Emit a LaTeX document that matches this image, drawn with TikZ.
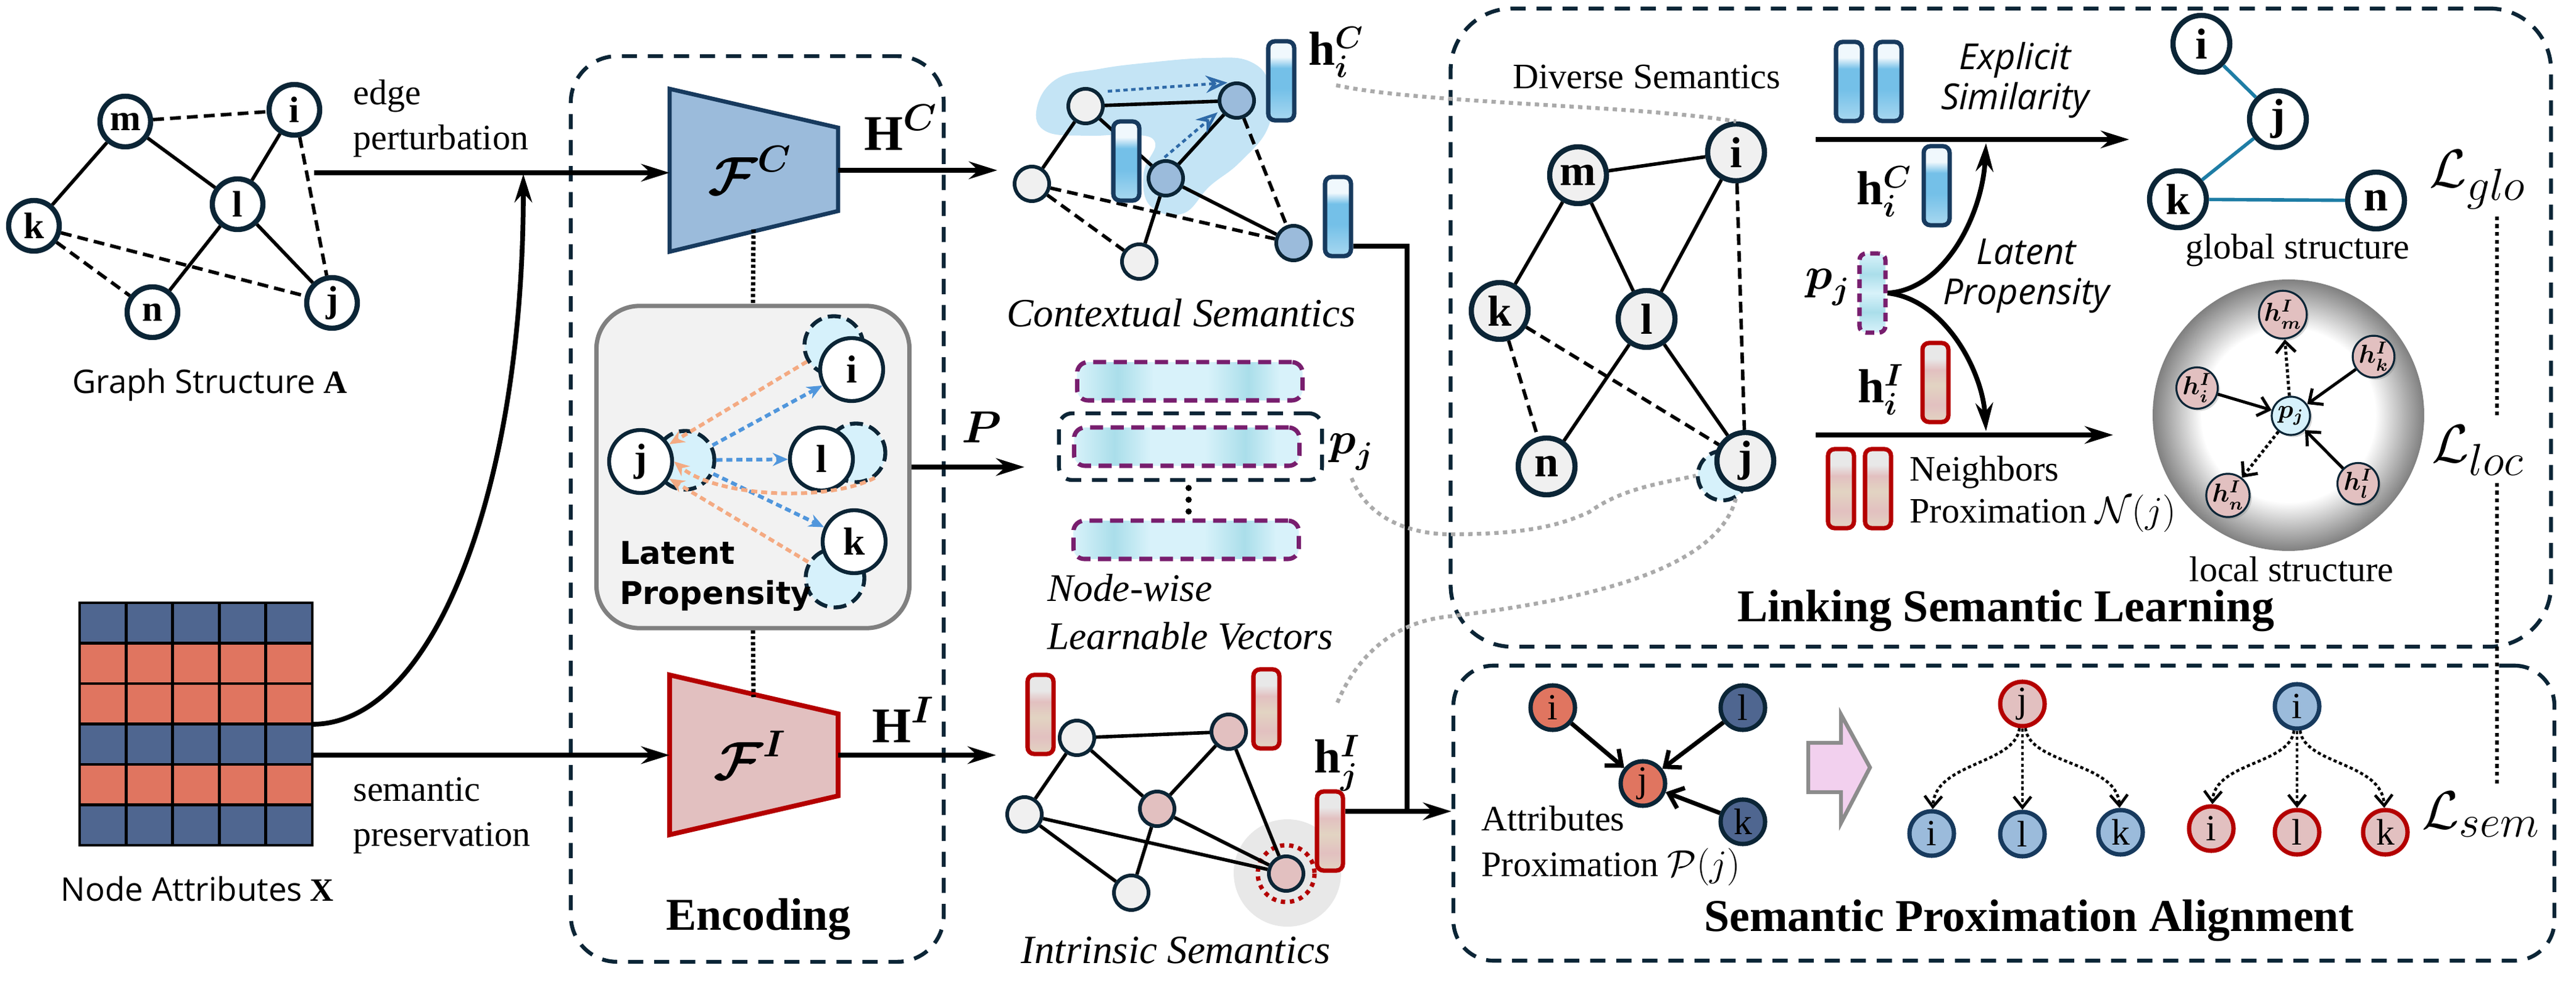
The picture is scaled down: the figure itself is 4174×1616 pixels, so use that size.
\documentclass[tikz,border=0pt]{standalone}
\usepackage{fontspec}
\usepackage{amsmath}
\setmainfont{Liberation Serif}
\newfontfamily\uisans{Open Sans}
\newfontfamily\widesans{DejaVu Sans}
\usetikzlibrary{arrows.meta,shadows,calc}

\definecolor{nodeline}{RGB}{11,37,54}
\definecolor{cblue}{RGB}{155,187,219}
\definecolor{cline}{RGB}{23,58,94}
\definecolor{ipink}{RGB}{226,192,192}
\definecolor{iline}{RGB}{180,0,0}
\definecolor{attrblue}{RGB}{79,102,144}
\definecolor{attrred}{RGB}{224,117,96}
\definecolor{shadowblue}{RGB}{214,241,251}
\definecolor{propblue}{RGB}{80,150,220}
\definecolor{proporange}{RGB}{244,170,130}
\definecolor{vecpurple}{RGB}{120,30,110}
\definecolor{blobblue}{RGB}{196,228,245}
\definecolor{ctxarrow}{RGB}{47,106,168}
\definecolor{globteal}{RGB}{30,125,165}
\definecolor{linkgray}{RGB}{170,170,170}
\definecolor{arrowpink}{RGB}{242,208,238}
\definecolor{nodegray}{RGB}{240,240,240}
\definecolor{bbtop}{RGB}{240,248,253}
\definecolor{bbmid}{RGB}{116,192,232}
\definecolor{bbbot}{RGB}{168,216,240}
\definecolor{rbtop}{RGB}{232,232,232}
\definecolor{rbpink}{RGB}{226,192,192}
\definecolor{rbbeige}{RGB}{226,212,194}
\definecolor{vlight}{RGB}{216,242,250}
\definecolor{vdark}{RGB}{170,222,234}

\pgfdeclareverticalshading{bluebar}{100bp}{color(0bp)=(bbbot); color(25bp)=(bbbot); color(45bp)=(bbmid); color(58bp)=(bbmid); color(65bp)=(bbtop); color(75bp)=(bbtop); color(100bp)=(bbtop)}
\pgfdeclareverticalshading{redbar}{100bp}{color(0bp)=(rbbeige); color(25bp)=(rbbeige); color(36bp)=(rbpink); color(48bp)=(rbbeige); color(58bp)=(rbpink); color(65bp)=(rbtop); color(75bp)=(rbtop); color(100bp)=(rbtop)}
\pgfdeclarehorizontalshading{learnvec}{100bp}{color(0bp)=(vlight); color(25bp)=(vlight); color(34bp)=(vdark); color(42bp)=(vlight); color(54bp)=(vlight); color(63bp)=(vdark); color(70bp)=(vlight); color(100bp)=(vlight)}
\pgfdeclareverticalshading{learnvecv}{100bp}{color(0bp)=(vlight); color(25bp)=(vlight); color(38bp)=(vdark); color(50bp)=(vlight); color(62bp)=(vdark); color(75bp)=(vlight); color(100bp)=(vlight)}
\pgfdeclareradialshading{sphere}{\pgfpoint{0bp}{0bp}}{color(0bp)=(white); color(16bp)=(white); color(25bp)=(black!50); color(50bp)=(black!50)}

\tikzset{
  gnode/.style={circle, draw=nodeline, line width=2.4pt, fill=white, minimum size=0.82cm, inner sep=0pt, font=\fontsize{17}{17}\selectfont\bfseries},
  lnode/.style={gnode, fill=nodegray, minimum size=0.92cm, font=\fontsize{20}{20}\selectfont\bfseries},
  gedge/.style={line width=1.6pt},
  gdash/.style={dash pattern=on 5pt off 2.8pt},
  dbox/.style={draw=nodeline, line width=1.8pt, dash pattern=on 7pt off 5pt, rounded corners=0.75cm},
  main/.style={line width=2.2pt},
  latnode/.style={circle, draw=nodeline, line width=1.8pt, fill=white, minimum size=1.02cm, inner sep=0pt, font=\fontsize{18}{18}\selectfont\bfseries},
  latshadow/.style={circle, draw=nodeline, line width=1.8pt, dash pattern=on 6pt off 3pt, fill=shadowblue, minimum size=0.95cm},
  proparrow/.style={line width=1.7pt, dash pattern=on 2.8pt off 1.8pt, -{Stealth[length=7pt,width=6pt]}},
  cnode/.style={circle, draw=nodeline, line width=1.7pt, fill=nodegray, minimum size=0.56cm, inner sep=0pt},
  cbar/.style={draw=cline, line width=2pt, rounded corners=3pt, shade, shading=bluebar, minimum width=0.42cm, minimum height=1.28cm, inner sep=0pt},
  ibar/.style={cbar, draw=iline, shading=redbar},
  lvec/.style={draw=vecpurple, line width=2pt, dash pattern=on 6pt off 3.5pt, rounded corners=5pt, shade, shading=learnvec, minimum width=3.65cm, minimum height=0.62cm, inner sep=0pt},
  hnode/.style={circle, draw=nodeline, line width=0.9pt, fill=ipink, minimum size=0.62cm, inner sep=0pt, drop shadow={opacity=0.3,shadow xshift=1pt,shadow yshift=-1pt}, font=\fontsize{12}{12}\selectfont},
  lsarrow/.style={line width=1.4pt, -{Straight Barb[length=5pt,width=9pt]}},
  snode/.style={circle, draw=nodeline, line width=2pt, minimum size=0.72cm, inner sep=0pt, font=\fontsize{17}{17}\selectfont},
  tarrow/.style={line width=1.3pt, dash pattern=on 1.5pt off 1.2pt, -{Straight Barb[length=5pt,width=8pt]}},
  linkdots/.style={linkgray, line width=1.8pt, dash pattern=on 2pt off 2pt},
  lossdots/.style={line width=1.8pt, dash pattern=on 1.8pt off 1.8pt},
  losslbl/.style={font=\fontsize{28}{28}\selectfont},
  lbl/.style={font=\fontsize{16.5}{21}\selectfont},
  mathlbl/.style={font=\fontsize{22}{22}\selectfont},
  head/.style={font=\fontsize{21}{21}\selectfont\bfseries}
}

\begin{document}
\begin{tikzpicture}[x=0.01cm,y=-0.01cm,>={Stealth[length=13pt,width=8pt]}]
\useasboundingbox (0,0) rectangle (4174,1616);

% boxes
\node[dbox, minimum width=6.04cm, minimum height=14.67cm] (enc) at (1227,825) {};
\node[dbox, rounded corners=1cm, minimum width=17.82cm, minimum height=10.34cm] (link) at (3242,531) {};
\node[dbox, rounded corners=0.65cm, minimum width=17.83cm, minimum height=4.78cm] (spa) at (3247,1318) {};

% graph structure
\node[gnode] (m) at (203,197) {m};
\node[gnode] (i) at (477,178) {i};
\node[gnode] (l) at (385,331) {l};
\node[gnode] (k) at (55,366) {k};
\node[gnode] (n) at (247,506) {n};
\node[gnode] (j) at (538,491) {j};
\foreach \a/\b in {m/k,m/l,l/i,l/n,l/j}
  \draw[gedge] (\a)--(\b);
\foreach \a/\b in {m/i,k/j,k/n,i/j}
  \draw[gedge,gdash] (\a)--(\b);
\node[font=\fontsize{15}{15}\selectfont] (gsA) at (340,624) {{\uisans Graph Structure} \textbf{A}};

% node attributes
\foreach \r/\c in {0/attrblue,1/attrred,2/attrred,3/attrblue,4/attrred,5/attrblue}
  \foreach \q in {0,...,4}
    \draw[fill=\c, line width=1.4pt] (129+\q*75.4,977+\r*65.5) rectangle ++(75.4,65.5);
\node[font=\fontsize{15}{15}\selectfont] (naX) at (320,1441) {{\uisans Node Attributes} \textbf{X}};
\coordinate (matC) at (506,1174);
\coordinate (matE) at (506,1224);
\coordinate (ep) at (509,280);
\coordinate (epm) at (848,282);
\node[lbl, anchor=west, align=left] (eplab) at (560,192) {edge\\perturbation};
\node[lbl, anchor=west, align=left] (splab) at (560,1322) {semantic\\preservation};

% encoders
\draw[fill=cblue, draw=cline, line width=1.9pt] (1085,144) -- (1358,207) -- (1358,342) -- (1085,408) -- cycle;
\node[font=\fontsize{27}{27}\selectfont] (fC) at (1215,276) {$\boldsymbol{\mathcal{F}}^{\boldsymbol{C}}$};
\draw[fill=ipink, draw=iline, line width=2.2pt] (1085,1094) -- (1358,1157) -- (1358,1290) -- (1085,1353) -- cycle;
\node[font=\fontsize{27}{27}\selectfont] (fI) at (1215,1224) {$\boldsymbol{\mathcal{F}}^{\boldsymbol{I}}$};
\coordinate (fcW) at (1085,280);
\coordinate (fcE) at (1358,276);
\coordinate (fiW) at (1085,1224);
\coordinate (fiE) at (1358,1224);
\coordinate (fcS) at (1221,372);
\coordinate (fiN) at (1221,1130);
\draw[main,->] (ep) -- (fcW);
\draw[main,->] (matC) .. controls (700,1174) and (848,800) .. (epm);
\draw[main,->] (matE) -- (fiW);

% latent propensity
\node[draw=gray, fill=gray!10, line width=2pt, rounded corners=0.7cm, minimum width=5.07cm, minimum height=5.22cm] (lat) at (1220,757) {};
\draw[line width=2pt, dash pattern=on 1.5pt off 1.2pt] (fcS) -- (lat.north);
\draw[line width=2pt, dash pattern=on 1.5pt off 1.2pt] (lat.south) -- (fiN);
\node[latshadow] (jsh) at (1110,746) {};
\node[latshadow] (ish) at (1351,560) {};
\node[latshadow] (lsh) at (1387,734) {};
\node[latshadow] (ksh) at (1353,937) {};
\node[latnode] (pj) at (1038,748) {j};
\node[latnode] (pi) at (1380,599) {i};
\node[latnode] (pl) at (1331,744) {l};
\node[latnode] (pk) at (1384,878) {k};
\foreach \t in {pi,pl,pk}
  \draw[proparrow,propblue] (jsh) -- (\t);
\draw[proparrow,proporange] (ish) -- (pj);
\draw[proparrow,proporange] (ksh) -- (pj);
\draw[proparrow,proporange] (lsh.-53) .. controls (1340,815) and (1160,805) .. (pj.east);
\node[anchor=west, align=left, font=\fontsize{14.5}{18.5}\selectfont\widesans\bfseries] (latlab) at (992,934) {Latent\\Propensity};
\node[head] (enclab) at (1229,1490) {Encoding};

\node[font=\fontsize{23}{23}\selectfont] (HC) at (1460,207) {$\mathbf{H}^{\boldsymbol{C}}$};
\node[font=\fontsize{23}{23}\selectfont] (HI) at (1464,1167) {$\mathbf{H}^{\boldsymbol{I}}$};
\coordinate (ctxin) at (1616,276);
\coordinate (intin) at (1614,1224);
\draw[main,->] (fcE) -- (ctxin);
\draw[main,->] (fiE) -- (intin);
\node[font=\fontsize{21}{21}\selectfont] (Plab) at (1591,692) {$\boldsymbol{P}$};
\coordinate (vecin) at (1660,757);
\draw[main,->] (lat.east) -- (vecin);

% contextual semantics
\fill[blobblue] plot[smooth cycle, tension=0.7] coordinates {(1680,175) (1712,128) (1780,112) (1856,102) (1958,94) (2026,100) (2058,140) (2055,206) (2009,263) (1960,302) (1917,346) (1864,334) (1853,281) (1872,232) (1836,218) (1764,220) (1695,213)};
\node[cnode] (cA) at (1759,172) {};
\node[cnode, fill=cblue] (cB) at (2004,163) {};
\node[cnode] (cC) at (1672,298) {};
\node[cnode, fill=cblue] (cD) at (1889,289) {};
\node[cnode] (cE) at (1846,424) {};
\node[cnode, fill=cblue] (cF) at (2096,394) {};
\foreach \a/\b in {cA/cB,cA/cC,cA/cD,cB/cD,cD/cF,cD/cE}
  \draw[gedge] (\a)--(\b);
\foreach \a/\b in {cC/cF,cC/cE,cB/cF}
  \draw[gedge,gdash] (\a)--(\b);
\node[cbar] (cb1) at (1825,261) {};
\node[cbar] (cb2) at (2076,131) {};
\node[cbar] (cb3) at (2168,351) {};
\draw[ctxarrow, line width=1.3pt, dash pattern=on 2pt off 1.6pt, -{Stealth[open,length=10pt,width=8pt]}] ([shift={(36,-24)}]cA.center) -- ([shift={(-15,-29)}]cB.center);
\draw[ctxarrow, line width=1.3pt, dash pattern=on 2pt off 1.6pt, -{Stealth[open,length=10pt,width=8pt]}] ([shift={(-2,-34)}]cD.center) -- ([shift={(-31,19)}]cB.center);
\node[font=\fontsize{18.5}{18.5}\selectfont\itshape] (ctxlab) at (1914,507) {Contextual Semantics};
\node[mathlbl] (hiC) at (2165,85) {$\mathbf{h}_{\boldsymbol{i}}^{\boldsymbol{C}}$};

% node-wise vectors
\node[lvec] (v1) at (1928,618) {};
\node[lvec] (v2) at (1923,724) {};
\node[lvec] (v3) at (1922,875) {};
\node[draw=nodeline, line width=1.8pt, dash pattern=on 7pt off 5pt, rounded corners=6pt, minimum width=4.26cm, minimum height=1.08cm] (pjbox) at (1929,724) {};
\foreach \y in {791,810,829}
  \fill (1926,\y) circle[radius=5];
\node[mathlbl] (pjlab) at (2190,733) {$\boldsymbol{p}_{\boldsymbol{j}}$};
\node[font=\fontsize{18}{22}\selectfont\itshape, anchor=west, align=left] (nwlab) at (1685,992) {Node-wise\\Learnable Vectors};

% intrinsic semantics
\fill[gray!18] (2086,1415) circle[radius=87];
\node[cnode] (iA) at (1745,1196) {};
\node[cnode, fill=ipink] (iB) at (1991,1186) {};
\node[cnode] (iC) at (1660,1320) {};
\node[cnode, fill=ipink] (iD) at (1875,1311) {};
\node[cnode] (iE) at (1833,1447) {};
\node[cnode, fill=ipink] (iF) at (2084,1416) {};
\draw[iline, line width=2pt, dash pattern=on 2pt off 2.2pt] (iF.center) circle[radius=46];
\foreach \a/\b in {iA/iB,iA/iC,iA/iD,iB/iD,iB/iF,iC/iF,iC/iE,iD/iF,iD/iE}
  \draw[gedge] (\a)--(\b);
\node[ibar] (ib1) at (1686,1158) {};
\node[ibar] (ib2) at (2052,1149) {};
\node[ibar] (ib3) at (2155,1347) {};
\node[mathlbl] (hjI) at (2167,1237) {$\mathbf{h}_{\boldsymbol{j}}^{\boldsymbol{I}}$};
\node[font=\fontsize{18.5}{18.5}\selectfont\itshape] (intlab) at (1905,1540) {Intrinsic Semantics};

\coordinate (jn) at (2280,1315);
\draw[main] ($(cb3.east)+(0,48)$) -| (jn);
\draw[main,->] ($(ib3.east)+(0,-32)$) -- (spa.west |- jn);

% linking semantic learning
\node[lbl] (dslab) at (2668,125) {Diverse Semantics};
\node[lnode] (dm) at (2557,284) {m};
\node[lnode] (di) at (2813,247) {i};
\node[lnode] (dk) at (2430,504) {k};
\node[lnode] (dl) at (2668,517) {l};
\node[lnode] (dn) at (2506,756) {n};
\node[latshadow, minimum size=0.8cm] (djsh) at (2791,771) {};
\node[lnode] (dj) at (2828,747) {j};
\foreach \a/\b in {dm/di,dm/dk,dm/dl,dl/di,dl/dn,dl/dj}
  \draw[gedge] (\a)--(\b);
\foreach \a/\b in {dk/dj,dk/dn,di/dj}
  \draw[gedge,gdash] (\a)--(\b);

\node[cbar] (lb1) at (2996,132) {};
\node[cbar] (lb2) at (3060,132) {};
\node[cbar] (lbc) at (3138,301) {};
\node[cbar, draw=vecpurple, dash pattern=on 4pt off 2.5pt, shading=learnvecv] (lbp) at (3034,475) {};
\node[ibar] (lbi) at (3136,620) {};
\node[ibar] (lr1) at (2983,792) {};
\node[ibar] (lr2) at (3043,792) {};
\node[mathlbl] (lhc) at (3053,311) {$\mathbf{h}_{\boldsymbol{i}}^{\boldsymbol{C}}$};
\node[mathlbl] (lpj) at (2962,466) {$\boldsymbol{p}_{\boldsymbol{j}}$};
\node[mathlbl] (lhi) at (3048,632) {$\mathbf{h}_{\boldsymbol{i}}^{\boldsymbol{I}}$};

\coordinate (su0) at (2942,226);
\coordinate (su1) at (3450,226);
\coordinate (sd0) at (2942,705);
\coordinate (sd1) at (3424,705);
\coordinate (sut) at (3218,232);
\coordinate (sdt) at (3218,699);
\draw[main,->] (su0) -- (su1);
\draw[main,->] (sd0) -- (sd1);
\draw[main,->] (lbp.east) .. controls (3150,470) and (3212,350) .. (sut);
\draw[main,->] (lbp.east) .. controls (3150,485) and (3212,600) .. (sdt);
\node[font=\fontsize{16.5}{18.5}\selectfont\uisans\itshape, align=center] (exlab) at (3265,130) {Explicit\\Similarity};
\node[font=\fontsize{16.5}{18.5}\selectfont\uisans\itshape, align=center] (lplab) at (3283,447) {Latent\\Propensity};
\node[font=\fontsize{16.5}{19.5}\selectfont, anchor=west, align=left] (nblab) at (3082,801) {Neighbors\\Proximation $\mathcal{N}(j)$};

\node[lnode, fill=white] (gi) at (3567,71) {i};
\node[lnode, fill=white] (gj) at (3691,193) {j};
\node[lnode, fill=white] (gk) at (3529,323) {k};
\node[lnode, fill=white] (gn) at (3850,325) {n};
\foreach \a/\b in {gi/gj,gj/gk,gk/gn}
  \draw[globteal, line width=1.6pt] (\a)--(\b);
\node[lbl] (glab) at (3723,406) {global structure};

\shade[shading=sphere] (3708,673) circle[radius=220];
\node[hnode, fill=shadowblue] (spj) at (3712,674) {$\boldsymbol{p_j}$};
\node[hnode] (hm) at (3699,510) {$\boldsymbol{h^I_m}$};
\node[hnode] (hk) at (3846,578) {$\boldsymbol{h^I_k}$};
\node[hnode] (hi) at (3560,629) {$\boldsymbol{h^I_i}$};
\node[hnode] (hl) at (3821,784) {$\boldsymbol{h^I_l}$};
\node[hnode] (hn) at (3610,803) {$\boldsymbol{h^I_n}$};
\foreach \t in {hi,hk,hl}
  \draw[lsarrow] (\t) -- (spj);
\foreach \t in {hm,hn}
  \draw[lsarrow, dash pattern=on 1.5pt off 1.2pt] (spj) -- (\t);
\node[lbl] (llab) at (3713,923) {local structure};
\node[head] (linklab) at (3250,990) {Linking Semantic Learning};

% losses
\node[losslbl] (Lglo) at (4015,291) {$\mathcal{L}_{glo}$};
\node[losslbl] (Lloc) at (4015,730) {$\mathcal{L}_{loc}$};
\node[losslbl] (Lsem) at (4020,1320) {$\mathcal{L}_{sem}$};
\coordinate (lx) at (4046,0);
\draw[lossdots] (Lglo.south -| lx) -- (Lloc.north -| lx);
\draw[lossdots] (Lloc.south -| lx) -- (Lsem.north -| lx);

% semantic proximation alignment
\node[snode, fill=attrred] (ai) at (2516,1147) {i};
\node[snode, fill=attrblue] (al) at (2824,1147) {l};
\node[snode, fill=attrred] (aj) at (2662,1270) {j};
\node[snode, fill=attrblue] (ak) at (2824,1332) {k};
\foreach \t in {ai,al,ak}
  \draw[line width=2pt, -{Straight Barb[length=6pt,width=10pt]}] (\t) -- (aj);
\node[anchor=west, align=left, font=\fontsize{16.5}{21}\selectfont] (aplab) at (2388,1371) {Attributes\\Proximation $\mathcal{P}(j)$};
\draw[fill=arrowpink, draw=gray!90, line width=1.8pt] (2930,1204) -- (2983,1204) -- (2983,1158) -- (3030,1244) -- (2983,1334) -- (2983,1284) -- (2930,1284) -- cycle;

\node[snode, draw=iline, fill=ipink] (t1r) at (3277,1141) {j};
\node[snode, draw=cline, fill=cblue] (t1a) at (3130,1351) {i};
\node[snode, draw=cline, fill=cblue] (t1b) at (3277,1352) {l};
\node[snode, draw=cline, fill=cblue] (t1c) at (3436,1349) {k};
\node[snode, draw=cline, fill=cblue] (t2r) at (3722,1145) {i};
\node[snode, draw=iline, fill=ipink] (t2a) at (3583,1343) {i};
\node[snode, draw=iline, fill=ipink] (t2b) at (3722,1349) {l};
\node[snode, draw=iline, fill=ipink] (t2c) at (3865,1349) {k};
\draw[tarrow] (t1r) .. controls (3265,1240) and (3135,1235) .. (t1a);
\draw[tarrow] (t1r) -- (t1b);
\draw[tarrow] (t1r) .. controls (3289,1240) and (3431,1235) .. (t1c);
\draw[tarrow] (t2r) .. controls (3710,1240) and (3588,1235) .. (t2a);
\draw[tarrow] (t2r) -- (t2b);
\draw[tarrow] (t2r) .. controls (3734,1240) and (3860,1235) .. (t2c);
\node[head] (spalab) at (3288,1492) {Semantic Proximation Alignment};

% dotted links
\draw[linkdots] (hiC.south) .. controls (2300,168) and (2650,170) .. (di.north);
\draw[linkdots] (pjlab.south) .. controls (2220,850) and (2300,866) .. (2350,866) .. controls (2480,866) and (2530,850) .. (2575,830) .. controls (2630,790) and (2700,782) .. (djsh.west);
\draw[linkdots] ($(hjI.north)+(0,-40)$) .. controls (2200,1060) and (2260,1010) .. (2341,1000) .. controls (2550,975) and (2780,930) .. (djsh.-60);
\end{tikzpicture}
\end{document}
